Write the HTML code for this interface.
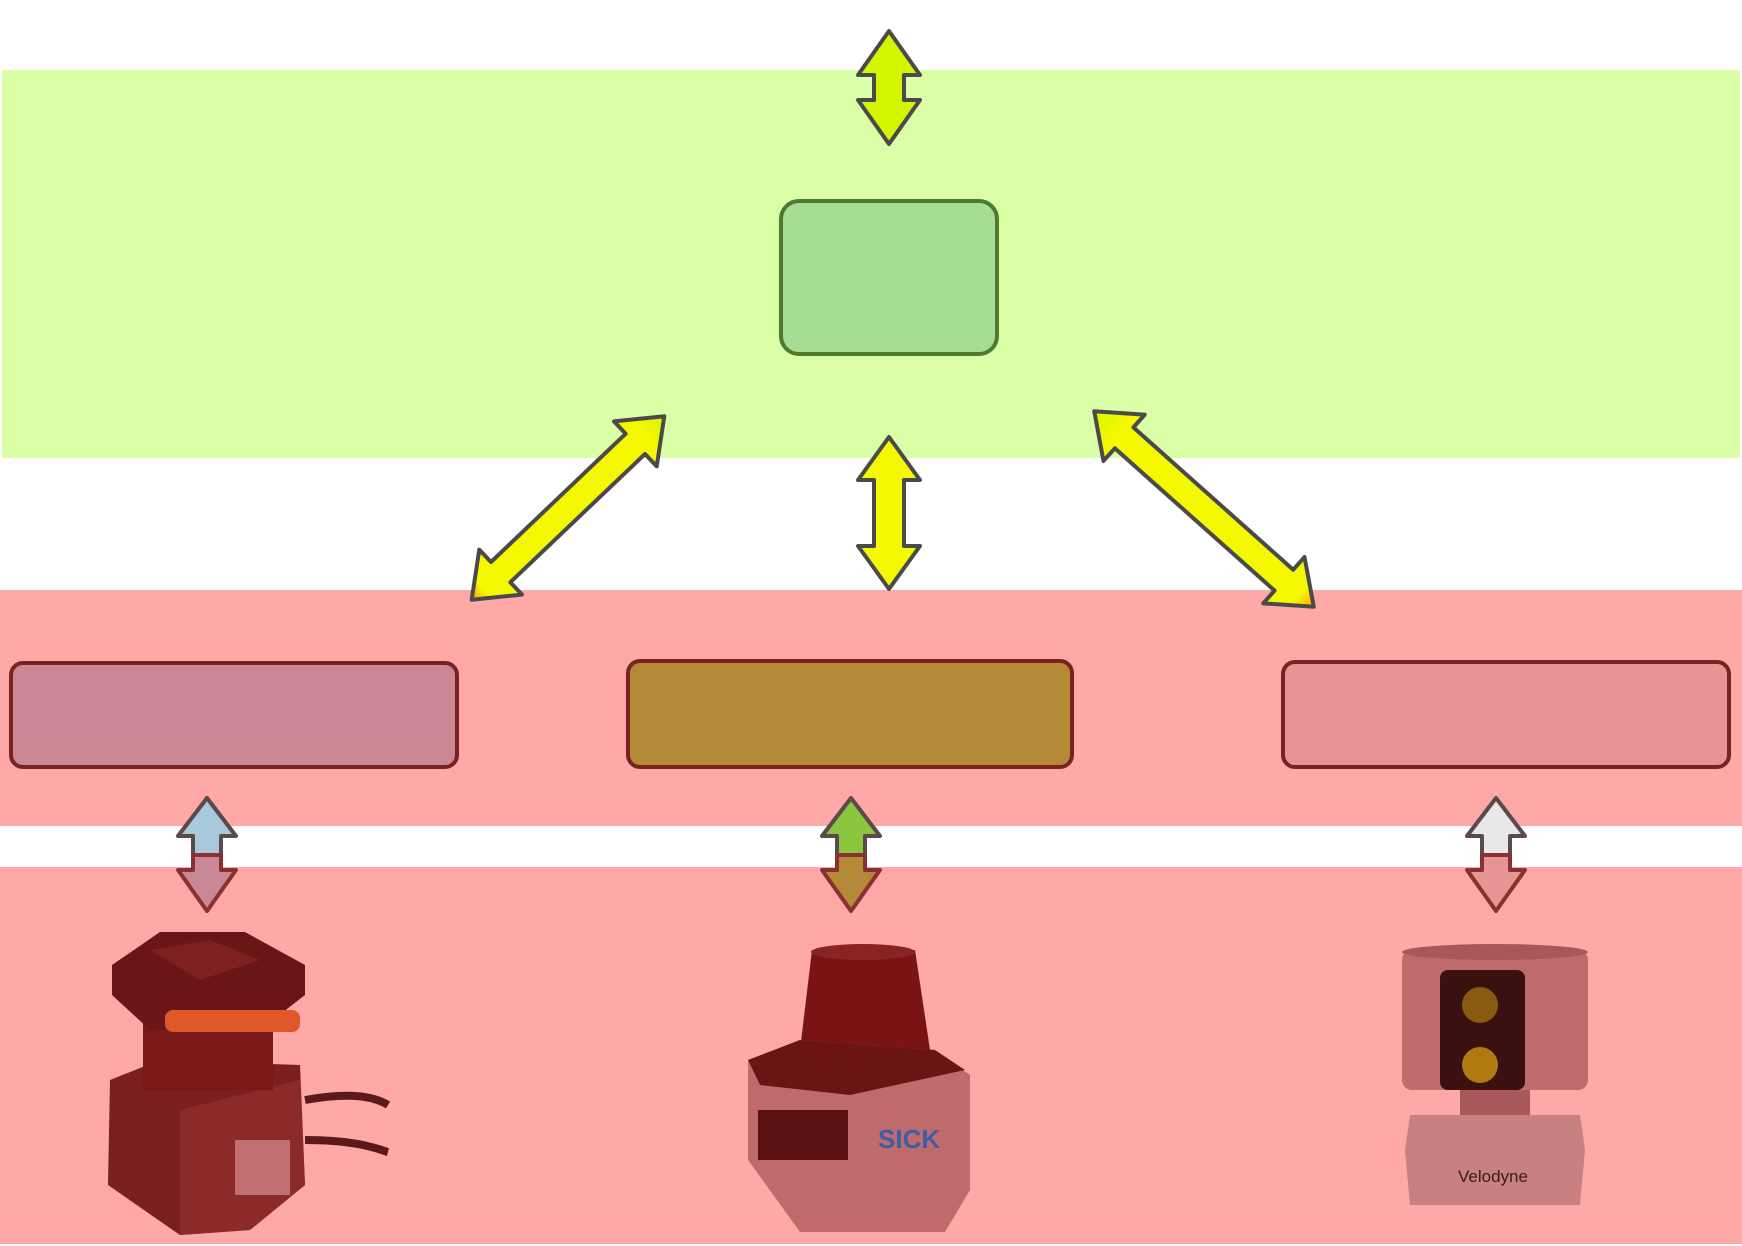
<!DOCTYPE html>
<html><head><meta charset="utf-8"><style>
html,body{margin:0;padding:0;background:#fff;}
svg{display:block;}
</style></head><body>
<svg width="1742" height="1246" viewBox="0 0 1742 1246" font-family="Liberation Sans, sans-serif">
<rect x="2" y="70" width="1738" height="388" fill="#daffa6"/>
<rect x="0" y="590" width="1742" height="236" fill="#fea8a8"/>
<rect x="0" y="867" width="1742" height="377" fill="#fea8a8"/>

<rect x="781" y="201" width="216" height="153" rx="18" fill="#a5dc96" stroke="#4e7a2c" stroke-width="4"/>
<rect x="11" y="663" width="446" height="104" rx="12" fill="#c98896" stroke="#7a2222" stroke-width="4"/>
<rect x="628" y="661" width="444" height="106" rx="12" fill="#b48a38" stroke="#7a2222" stroke-width="4"/>
<rect x="1283" y="662" width="446" height="105" rx="12" fill="#e99494" stroke="#7a2222" stroke-width="4"/>

<g stroke="#4a4a4a" stroke-width="4" stroke-linejoin="round">
<polygon fill="#d4f500" points="889,31 920,75 904,75 904,100 920,100 889,144 858,100 874,100 874,75 858,75"/>
<polygon fill="#f4f800" points="889,437 920,480 904,480 904,546 920,546 889,589 858,546 874,546 874,480 858,480"/>
</g>
<defs>
<linearGradient id="gl" x1="0" y1="1" x2="0" y2="0"><stop offset="0" stop-color="#ff9a00"/><stop offset="0.06" stop-color="#f4f800"/><stop offset="0.9" stop-color="#f4f800"/><stop offset="1" stop-color="#d4f500"/></linearGradient>
</defs>
<g transform="translate(568,508) rotate(46.4)">
<polygon fill="url(#gl)" stroke="#4a4a4a" stroke-width="4" stroke-linejoin="round" points="0,-133 31,-93 14,-93 14,93 31,93 0,133 -31,93 -14,93 -14,-93 -31,-93"/>
</g>
<g transform="translate(1204,509) rotate(-48.3)">
<polygon fill="url(#gl)" stroke="#4a4a4a" stroke-width="4" stroke-linejoin="round" points="0,-147 31,-107 14,-107 14,107 31,107 0,147 -31,107 -14,107 -14,-107 -31,-107"/>
</g>

<g stroke-width="4" stroke-linejoin="round">
<polygon fill="#a8c8dc" stroke="#5a4a4a" points="207,798 236,836 221,836 221,855 193,855 193,836 178,836"/>
<polygon fill="#c98896" stroke="#8a3030" points="193,855 193,870 178,870 207,911 236,870 221,870 221,855"/>
<polygon fill="#8cc63e" stroke="#5a4a4a" points="851,798 880,836 865,836 865,855 837,855 837,836 822,836"/>
<polygon fill="#b48a38" stroke="#8a3030" points="837,855 837,870 822,870 851,911 880,870 865,870 865,855"/>
<polygon fill="#e8e8e8" stroke="#5a4a4a" points="1496,798 1525,836 1510,836 1510,855 1482,855 1482,836 1467,836"/>
<polygon fill="#e99494" stroke="#8a3030" points="1482,855 1482,870 1467,870 1496,911 1525,870 1510,870 1510,855"/>
</g>

<g>
<path d="M305,1100 C360,1090 380,1100 388,1105" stroke="#5a1a1a" stroke-width="8" fill="none"/>
<path d="M305,1140 C360,1140 380,1150 388,1152" stroke="#5a1a1a" stroke-width="8" fill="none"/>
<polygon points="110,1080 160,1060 300,1065 305,1185 250,1230 180,1235 108,1185" fill="#7a1e1e"/>
<polygon points="180,1110 300,1080 305,1185 250,1230 180,1235" fill="#8c2a2a"/>
<rect x="235" y="1140" width="55" height="55" fill="#c07070"/>
<rect x="143" y="1020" width="130" height="70" fill="#7a1818"/>
<polygon points="112,965 160,932 245,932 305,965 305,995 260,1030 150,1030 112,995" fill="#6a1616"/>
<polygon points="150,950 210,940 260,960 200,980" fill="#7e2020"/>
<rect x="165" y="1010" width="135" height="22" rx="8" fill="#e0582a"/>
</g>
<g>
<polygon points="812,950 915,950 930,1050 800,1050" fill="#7a1414"/>
<ellipse cx="863" cy="952" rx="52" ry="8" fill="#8a2424"/>
<polygon points="748,1060 800,1040 935,1050 970,1075 970,1190 945,1232 800,1232 748,1160" fill="#c06b6b"/>
<polygon points="748,1060 800,1040 935,1050 965,1070 850,1095 760,1085" fill="#6a1414"/>
<rect x="758" y="1110" width="90" height="50" fill="#5a1010"/>
<text x="878" y="1148" font-size="26" font-weight="bold" fill="#3a5fa8">SICK</text>
</g>
<g>
<rect x="1402" y="950" width="186" height="140" rx="10" fill="#c06b6b"/>
<ellipse cx="1495" cy="952" rx="93" ry="8" fill="#a85858"/>
<rect x="1440" y="970" width="85" height="120" rx="8" fill="#3a1010"/>
<circle cx="1480" cy="1005" r="18" fill="#8a5a10"/>
<circle cx="1480" cy="1065" r="18" fill="#b07a10"/>
<rect x="1460" y="1090" width="70" height="25" fill="#a85858"/>
<polygon points="1410,1115 1580,1115 1585,1150 1580,1205 1410,1205 1405,1150" fill="#c88080"/>
<text x="1458" y="1182" font-size="17" fill="#3a1a1a">Velodyne</text>
</g>
</svg>
</body></html>
